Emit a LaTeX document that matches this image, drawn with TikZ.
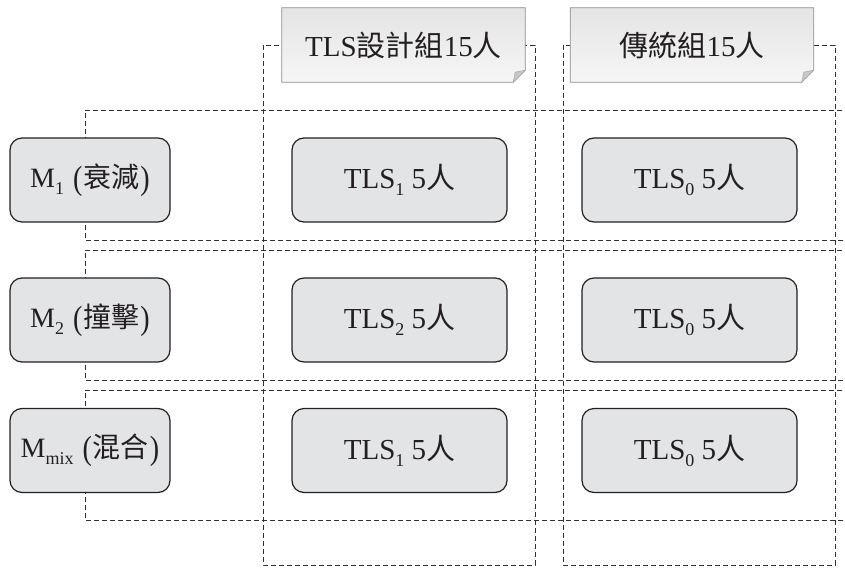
\documentclass[tikz,border=0pt]{standalone}
\usepackage{graphicx}
\usepackage{fontspec}
\setmainfont{Liberation Serif}
\newfontfamily\cjk{Noto Sans CJK TC}
\definecolor{boxfill}{RGB}{227,228,230}
\definecolor{ink}{RGB}{35,31,32}
\definecolor{frameink}{RGB}{50,50,50}
\definecolor{headtop}{RGB}{228,228,228}
\definecolor{headbot}{RGB}{246,246,246}
\definecolor{foldc}{RGB}{200,200,200}
\newcommand\subs[1]{\raisebox{-7pt}{\fontsize{18}{18}\selectfont #1}}
\newcommand\lpar{\hspace{9pt}\raisebox{-2pt}{\scalebox{1}[1.2]{(}}\hspace{1pt}}
\newcommand\rpar{\hspace{1pt}\raisebox{-2pt}{\scalebox{1}[1.2]{)}}}
\pgfdeclarelayer{bg}
\pgfsetlayers{bg,main}
\begin{document}
\begin{tikzpicture}[x=1pt,y=-1pt,
  frame/.style={draw=frameink, dash pattern=on 5pt off 3pt, line width=0.9pt},
  cell/.style={draw=ink, fill=boxfill, rounded corners=12pt, line width=1.2pt,
    minimum width=215pt, minimum height=84pt, inner sep=0pt, text=ink,
    font=\fontsize{29}{34}\selectfont},
  mbox/.style={cell, minimum width=160pt, font=\fontsize{28}{34}\selectfont},
  head/.style={minimum width=243pt, minimum height=74pt, inner sep=0pt, text=ink,
    font=\fontsize{29}{34}\selectfont},
  headshape/.style={top color=headtop, bottom color=headbot, draw=black!45, line width=0.8pt},
  fold/.style={fill=foldc, draw=black!35, line width=0.5pt}
]
\useasboundingbox (0,0) rectangle (845,567);

% headers (text on main layer)
\node[head] (h1) at (403.5,45) {TLS{\cjk 設計組}15{\cjk 人}};
\node[head] (h2) at (692,45) {{\cjk 傳統組}15{\cjk 人}};

\begin{pgfonlayer}{bg}
% column frames
\draw[frame] (263,45) rectangle (535,565);
\draw[frame] (563,45) rectangle (835,565);
% row frames (open to the right edge)
\draw[frame] (850,110) -- (85,110) -- (85,240) -- (850,240);
\draw[frame] (850,250) -- (85,250) -- (85,380) -- (850,380);
\draw[frame] (850,390) -- (85,390) -- (85,520) -- (850,520);
% header shapes over the frames
\foreach \h in {h1,h2}{
  \path[headshape] (\h.north west) -- (\h.north east) -- ([yshift=12pt]\h.south east)
     -- ([xshift=-12pt]\h.south east) -- (\h.south west) -- cycle;
  \path[fold] ([yshift=12pt]\h.south east) -- ([xshift=-12pt]\h.south east)
     -- ([xshift=-10pt,yshift=10pt]\h.south east) -- cycle;
}
\end{pgfonlayer}

% row labels
\node[mbox] (m1) at (90,180) {M\subs{1}\lpar{\cjk 衰減}\rpar};
\node[mbox] (m2) at (90,320) {M\subs{2}\lpar{\cjk 撞擊}\rpar};
\node[mbox] (m3) at (90,450.5) {M\subs{mix}\lpar{\cjk 混合}\rpar};

% cells
\node[cell] (c11) at (399.5,180) {TLS\subs{1} 5{\cjk 人}};
\node[cell] (c21) at (399.5,320) {TLS\subs{2} 5{\cjk 人}};
\node[cell] (c31) at (399.5,450.5) {TLS\subs{1} 5{\cjk 人}};
\node[cell] (c12) at (689.5,180) {TLS\subs{0} 5{\cjk 人}};
\node[cell] (c22) at (689.5,320) {TLS\subs{0} 5{\cjk 人}};
\node[cell] (c32) at (689.5,450.5) {TLS\subs{0} 5{\cjk 人}};
\end{tikzpicture}
\end{document}
